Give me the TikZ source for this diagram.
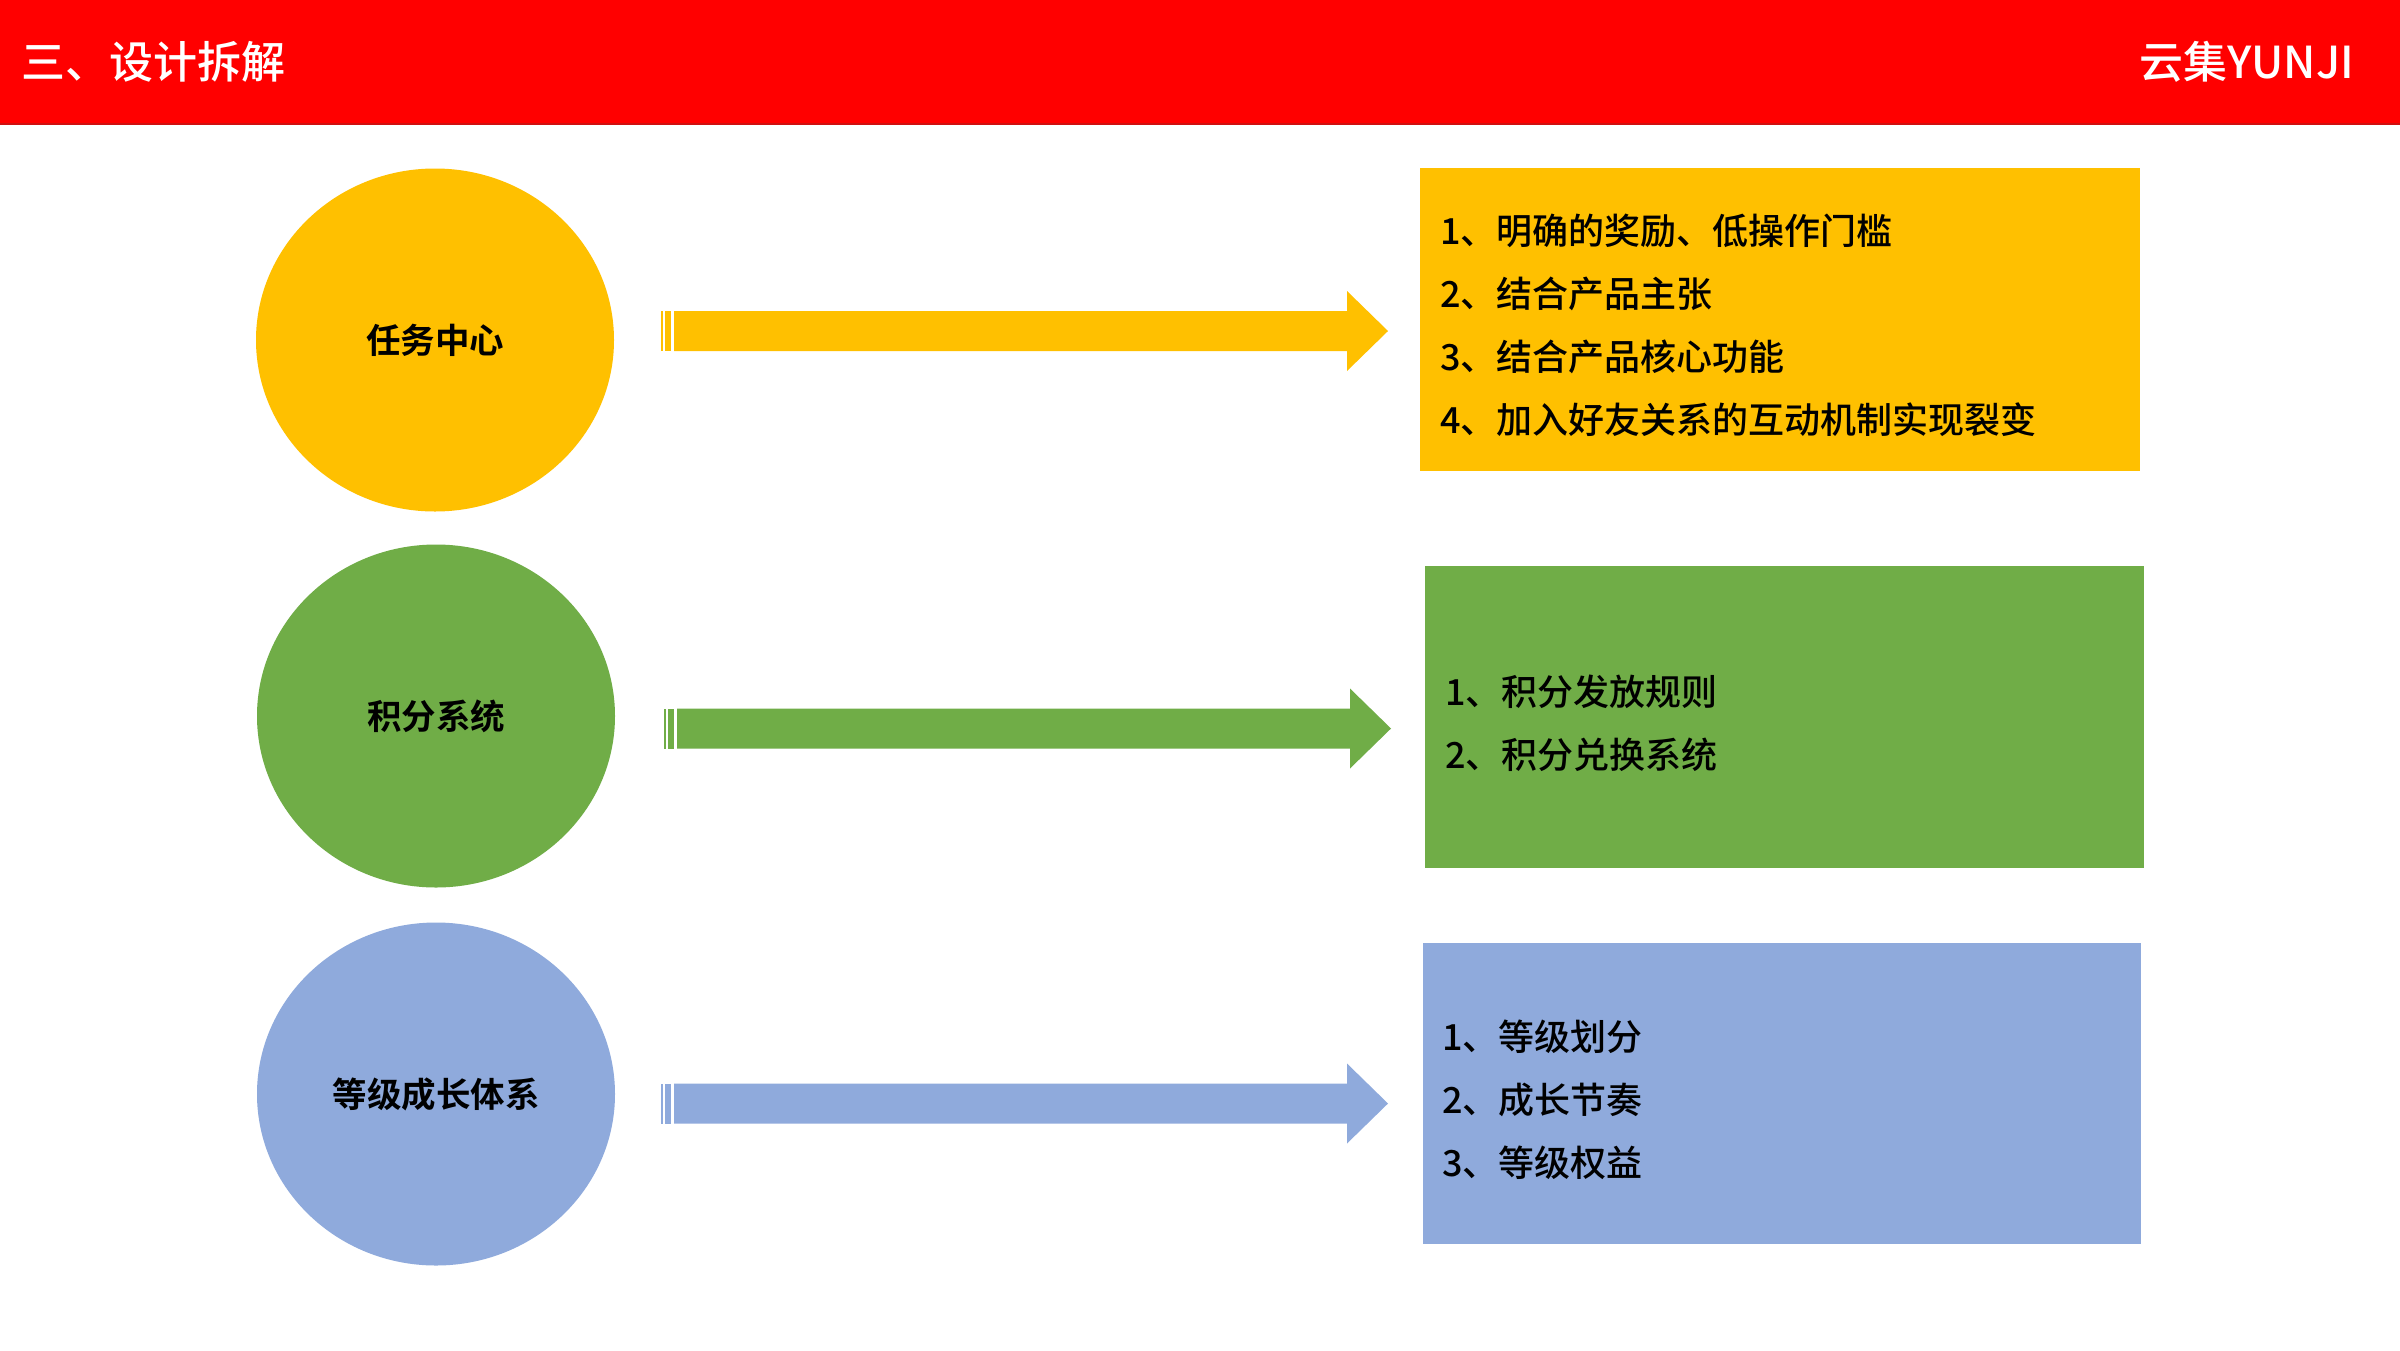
\documentclass[tikz,border=0pt]{standalone}
\usepackage{fontspec}
\usetikzlibrary{shapes.geometric}
\setmainfont{Noto Sans CJK SC}
\newfontfamily\cjkm{Noto Sans CJK SC Medium}
\newfontfamily\cjkb{Noto Sans CJK SC Bold}
\definecolor{hdr}{HTML}{FF0000}
\definecolor{hdrline}{HTML}{D01010}
\definecolor{cyel}{HTML}{FFC000}
\definecolor{cgrn}{HTML}{70AD47}
\definecolor{cblu}{HTML}{8FAADC}
\newcommand\blockarrow[3]{%
  \begin{scope}[shift={(#2,#3)}]
    \fill[#1] (0,-20) rectangle (2,20);
    \fill[#1] (4,-20) rectangle (10,20);
    \fill[#1] (13,-20) -- (686,-20) -- (686,-40) -- (727,0) -- (686,40) -- (686,20) -- (13,20) -- cycle;
  \end{scope}}
\tikzset{
  circ/.style={ellipse, fill=#1, inner sep=0pt, minimum width=358pt, minimum height=343pt,
    font=\cjkb\fontsize{34.5}{40}\selectfont, text=black},
  box/.style={rectangle, fill=#1, inner sep=0pt},
  items/.style={anchor=west, align=left, inner sep=0pt, text=black,
    font=\cjkm\fontsize{36}{63}\selectfont},
  hdrtext/.style={inner sep=0pt, text=white, font=\cjkm\fontsize{44}{50}\selectfont}
}
\begin{document}
\begin{tikzpicture}[x=1pt,y=-1pt]
\useasboundingbox (0,0) rectangle (2400,1350);
\fill[white] (0,0) rectangle (2400,1350);
% header
\fill[hdr] (0,0) rectangle (2400,124);
\draw[hdrline, line width=2pt] (0,124) -- (2400,124);
\node[hdrtext, anchor=west] (title) at (21,62) {三、设计拆解};
\node[hdrtext, anchor=east] (brand) at (2354,62) {云集YUNJI};
% circles
\node[circ=cyel] (c1) at (435,340) {任务中心};
\node[circ=cgrn] (c2) at (436,716) {积分系统};
\node[circ=cblu] (c3) at (436,1094) {等级成长体系};
% boxes
\node[box=cyel, minimum width=720pt, minimum height=303pt] (b1) at (1780,319.5) {};
\node[box=cgrn, minimum width=719pt, minimum height=302pt] (b2) at (1784.5,717) {};
\node[box=cblu, minimum width=718pt, minimum height=301pt] (b3) at (1782,1093.5) {};
% items
\node[items] (t1) at (1440,325) {1、明确的奖励、低操作门槛\\2、结合产品主张\\3、结合产品核心功能\\4、加入好友关系的互动机制实现裂变};
\node[items] (t2) at (1445,723.5) {1、积分发放规则\\2、积分兑换系统};
\node[items] (t3) at (1442,1099.5) {1、等级划分\\2、成长节奏\\3、等级权益};
% arrows
\blockarrow{cyel}{661}{331}
\blockarrow{cgrn}{664}{728.5}
\blockarrow{cblu}{661}{1103.5}
\end{tikzpicture}
\end{document}
